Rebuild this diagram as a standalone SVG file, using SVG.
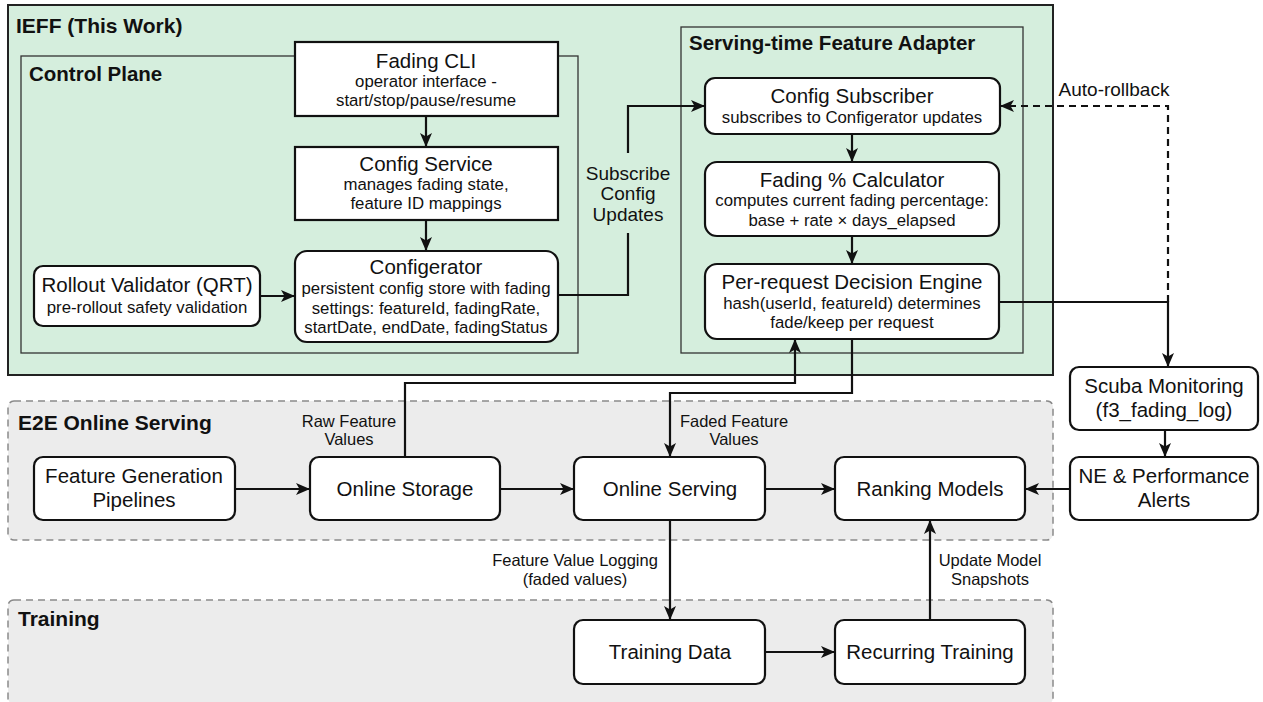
<svg xmlns="http://www.w3.org/2000/svg" width="1263" height="702" viewBox="0 0 1263 702">
<style>
text{font-family:"Liberation Sans",Arial,Helvetica,sans-serif;fill:#111}
.gt{font-weight:bold;font-size:21px}
.t{font-size:20.5px;text-anchor:middle}
.s{font-size:16.8px;text-anchor:middle}
.l{font-size:16.5px;text-anchor:middle}
.lb{font-size:19px;text-anchor:middle}
.n{fill:#fff;stroke:#111;stroke-width:2.2}
.c{fill:none;stroke:#111;stroke-width:2.2}
.d{fill:none;stroke:#111;stroke-width:2.2;stroke-dasharray:7 5}
.zone{fill:#ececec;stroke:#8a8a8a;stroke-width:1.5;stroke-dasharray:7 5}
.inner{fill:none;stroke:#333;stroke-width:1.3}
</style>
<defs>
<marker id="ah" viewBox="0 0 14 14" refX="13" refY="7" markerWidth="14" markerHeight="14" markerUnits="userSpaceOnUse" orient="auto">
<path d="M0,1 L14,7 L0,13 L3.5,7 Z" fill="#111"/>
</marker>
</defs>

<g id="zone-ieff">
<rect x="8" y="5" width="1045" height="370" fill="#d5eedd" stroke="#222" stroke-width="2"/>
<text class="gt" x="16" y="33">IEFF (This Work)</text>
</g>
<g id="zone-control-plane">
<rect class="inner" x="21" y="56" width="557" height="297"/>
<text class="gt" x="29" y="81" style="font-size:20.5px">Control Plane</text>
</g>
<g id="zone-adapter">
<rect class="inner" x="681" y="27" width="342" height="326"/>
<text class="gt" x="689" y="50" style="font-size:20.5px">Serving-time Feature Adapter</text>
</g>
<g id="zone-e2e">
<rect class="zone" x="8" y="401" width="1045" height="139" rx="6"/>
<text class="gt" x="18" y="430">E2E Online Serving</text>
</g>
<g id="zone-training">
<rect class="zone" x="8" y="600" width="1045" height="104" rx="6"/>
<text class="gt" x="18" y="626">Training</text>
</g>

<g id="connectors">
<path class="c" d="M426,116 V146" marker-end="url(#ah)"/>
<path class="c" d="M426,220 V250" marker-end="url(#ah)"/>
<path class="c" d="M260,296 H294" marker-end="url(#ah)"/>
<path class="c" d="M558,295 H628 V233 M628,153 V106 H704" marker-end="url(#ah)"/>
<path class="c" d="M852,134 V161" marker-end="url(#ah)"/>
<path class="c" d="M852,236 V263" marker-end="url(#ah)"/>
<path class="d" d="M1168,302 V106 H1001" marker-end="url(#ah)"/>
<path class="c" d="M999,302 H1168 V366" marker-end="url(#ah)"/>
<path class="c" d="M1165,431 V456" marker-end="url(#ah)"/>
<path class="c" d="M1070,489 H1026" marker-end="url(#ah)"/>
<path class="c" d="M405,457 V383 H795 V340" marker-end="url(#ah)"/>
<path class="c" d="M852,339 V393 H670 V456" marker-end="url(#ah)"/>
<path class="c" d="M235,489 H309" marker-end="url(#ah)"/>
<path class="c" d="M500,489 H573" marker-end="url(#ah)"/>
<path class="c" d="M765,489 H834" marker-end="url(#ah)"/>
<path class="c" d="M670,520 V619" marker-end="url(#ah)"/>
<path class="c" d="M765,652 H834" marker-end="url(#ah)"/>
<path class="c" d="M930,620 V521" marker-end="url(#ah)"/>
<text class="lb"><tspan x="628" y="180">Subscribe</tspan><tspan x="628" y="200">Config</tspan><tspan x="628" y="221">Updates</tspan></text>
<text class="lb" x="1114" y="96">Auto-rollback</text>
<text class="l"><tspan x="349" y="427">Raw Feature</tspan><tspan x="349" y="445">Values</tspan></text>
<text class="l"><tspan x="734" y="427">Faded Feature</tspan><tspan x="734" y="445">Values</tspan></text>
<text class="l"><tspan x="575" y="566">Feature Value Logging</tspan><tspan x="575" y="585">(faded values)</tspan></text>
<text class="l"><tspan x="990" y="566">Update Model</tspan><tspan x="990" y="585">Snapshots</tspan></text>
</g>

<g id="fading-cli">
<rect class="n" x="295" y="42" width="263" height="74"/>
<text class="t" x="426" y="68">Fading CLI</text>
<text class="s"><tspan x="426" y="87">operator interface -</tspan><tspan x="426" y="106">start/stop/pause/resume</tspan></text>
</g>
<g id="config-service">
<rect class="n" x="295" y="147" width="263" height="73"/>
<text class="t" x="426" y="171">Config Service</text>
<text class="s"><tspan x="426" y="190">manages fading state,</tspan><tspan x="426" y="209">feature ID mappings</tspan></text>
</g>
<g id="configerator">
<rect class="n" x="295" y="251" width="263" height="91" rx="12"/>
<text class="t" x="426" y="274">Configerator</text>
<text class="s"><tspan x="426" y="294">persistent config store with fading</tspan><tspan x="426" y="314">settings: featureId, fadingRate,</tspan><tspan x="426" y="333">startDate, endDate, fadingStatus</tspan></text>
</g>
<g id="rollout-validator">
<rect class="n" x="34" y="266" width="226" height="60" rx="9"/>
<text class="t" x="147" y="292">Rollout Validator (QRT)</text>
<text class="s" x="147" y="313">pre-rollout safety validation</text>
</g>
<g id="config-subscriber">
<rect class="n" x="705" y="78" width="295" height="56" rx="10"/>
<text class="t" x="852" y="103">Config Subscriber</text>
<text class="s" x="852" y="123">subscribes to Configerator updates</text>
</g>
<g id="fading-calculator">
<rect class="n" x="705" y="162" width="294" height="74" rx="12"/>
<text class="t" x="852" y="187">Fading % Calculator</text>
<text class="s"><tspan x="852" y="206">computes current fading percentage:</tspan><tspan x="852" y="226">base + rate × days_elapsed</tspan></text>
</g>
<g id="decision-engine">
<rect class="n" x="705" y="264" width="294" height="75" rx="12"/>
<text class="t" x="852" y="289">Per-request Decision Engine</text>
<text class="s"><tspan x="852" y="309">hash(userId, featureId) determines</tspan><tspan x="852" y="328">fade/keep per request</tspan></text>
</g>
<g id="scuba-monitoring">
<rect class="n" x="1070" y="367" width="188" height="63" rx="9"/>
<text class="t"><tspan x="1164" y="393">Scuba Monitoring</tspan><tspan x="1164" y="417">(f3_fading_log)</tspan></text>
</g>
<g id="ne-alerts">
<rect class="n" x="1070" y="457" width="188" height="63" rx="9"/>
<text class="t"><tspan x="1164" y="483">NE &amp; Performance</tspan><tspan x="1164" y="507">Alerts</tspan></text>
</g>
<g id="feature-generation">
<rect class="n" x="34" y="457" width="201" height="63" rx="9"/>
<text class="t"><tspan x="134" y="483">Feature Generation</tspan><tspan x="134" y="507">Pipelines</tspan></text>
</g>
<g id="online-storage">
<rect class="n" x="310" y="457" width="190" height="63" rx="9"/>
<text class="t" x="405" y="496">Online Storage</text>
</g>
<g id="online-serving">
<rect class="n" x="574" y="457" width="191" height="63" rx="9"/>
<text class="t" x="670" y="496">Online Serving</text>
</g>
<g id="ranking-models">
<rect class="n" x="835" y="457" width="190" height="63" rx="9"/>
<text class="t" x="930" y="496">Ranking Models</text>
</g>
<g id="training-data">
<rect class="n" x="574" y="620" width="191" height="64" rx="9"/>
<text class="t" x="670" y="659">Training Data</text>
</g>
<g id="recurring-training">
<rect class="n" x="835" y="620" width="190" height="64" rx="9"/>
<text class="t" x="930" y="659">Recurring Training</text>
</g>
</svg>
